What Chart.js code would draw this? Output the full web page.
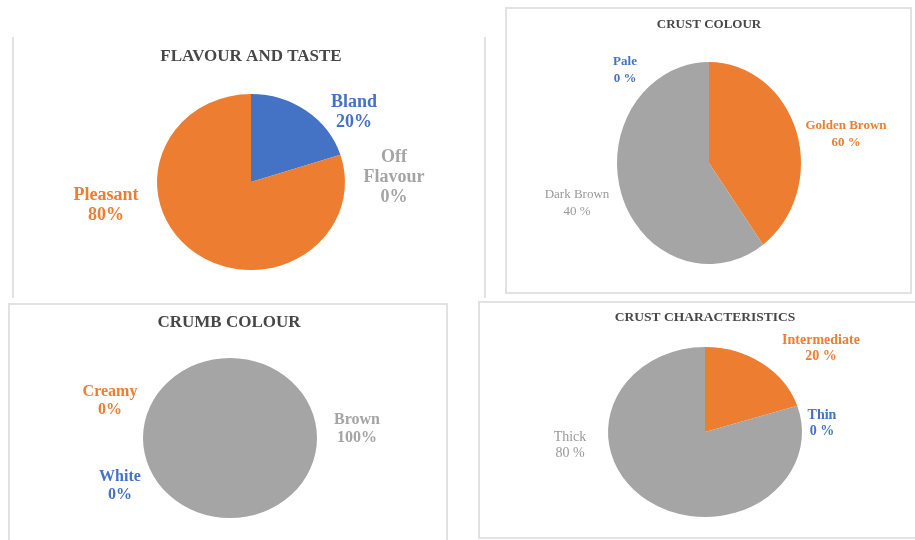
<!DOCTYPE html>
<html>
<head>
<meta charset="utf-8">
<script src="https://cdn.jsdelivr.net/npm/chart.js@4.4.1/dist/chart.umd.min.js"></script>
<style>
  html, body { margin: 0; padding: 0; background: #ffffff; }
  body { width: 915px; height: 540px; position: relative; overflow: hidden; }
  .caja { position: absolute; box-sizing: border-box; border-color: #e2e2e2; border-style: solid; border-width: 0; }
  canvas { position: absolute; left: 0; top: 0; }
</style>
</head>
<body>
<div class="caja" style="left:12px; top:37px; width:474px; height:261px; border-left-width:2px; border-right-width:2px;"></div>
<div class="caja" style="left:505px; top:7px; width:407px; height:287px; border-width:2px;"></div>
<div class="caja" style="left:8px; top:303px; width:440px; height:260px; border-width:2px 2px 0 2px;"></div>
<div class="caja" style="left:478px; top:301px; width:460px; height:238px; border-width:2px;"></div>

<canvas id="grafico-sabor" width="915" height="540"></canvas>
<canvas id="grafico-color-corteza" width="915" height="540"></canvas>
<canvas id="grafico-color-miga" width="915" height="540"></canvas>
<canvas id="grafico-caracteristicas" width="915" height="540"></canvas>

<script>
// ===== datos =====
const categoriasSabor = ["Bland", "Off Flavour", "Pleasant"];
const valoresSabor = [20, 0, 80];
const textosSabor = [["Bland", "20%"], ["Off", "Flavour", "0%"], ["Pleasant", "80%"]];

// los sectores dibujados en el original: dorado ~40 %, oscuro ~60 % (las etiquetas dicen lo contrario)
const categoriasCorteza = ["Pale", "Golden Brown", "Dark Brown"];
const valoresCorteza = [0, 40, 60];
const textosCorteza = [["Pale", "0 %"], ["Golden Brown", "60 %"], ["Dark Brown", "40 %"]];

const categoriasMiga = ["White", "Creamy", "Brown"];
const valoresMiga = [0, 0, 100];
const textosMiga = [["White", "0%"], ["Creamy", "0%"], ["Brown", "100%"]];

const categoriasCaracteristicas = ["Intermediate", "Thin", "Thick"];
const valoresCaracteristicas = [20, 0, 80];
const textosCaracteristicas = [["Intermediate", "20 %"], ["Thin", "0 %"], ["Thick", "80 %"]];

// ===== colores =====
const AZUL = "#4472c4";
const NARANJA = "#ed7d31";
const GRIS = "#a5a5a5";

/* =========================
   PLUGIN TITULO Y ETIQUETAS
   ========================= */
const pluginEtiquetas = {
    id: "etiquetas",
    // la imagen original esta un poco estirada: la tarta sale como elipse
    beforeDatasetsDraw(chart, args, opts) {
        const ctx = chart.ctx;
        const area = chart.chartArea;
        const cx = (area.left + area.right) / 2;
        const cy = (area.top + area.bottom) / 2;
        ctx.save();
        ctx.translate(cx, cy);
        ctx.scale(opts.escalaX, 1);
        ctx.translate(-cx, -cy);
    },
    afterDatasetsDraw(chart) {
        chart.ctx.restore();
    },
    afterDraw(chart, args, opts) {
        const ctx = chart.ctx;
        ctx.save();
        ctx.textAlign = "center";
        ctx.textBaseline = "middle";

        ctx.font = "bold " + opts.tamTitulo + "px 'Liberation Serif'";
        ctx.fillStyle = "#474747";
        ctx.fillText(opts.titulo, opts.posTitulo[0], opts.posTitulo[1]);

        opts.textos.forEach((lineas, i) => {
            const [x, y] = opts.posiciones[i];
            const peso = opts.pesos[i];
            ctx.font = peso + " " + opts.tamEtiqueta + "px 'Liberation Serif'";
            ctx.fillStyle = opts.coloresTexto[i];
            const inicio = y - (lineas.length - 1) * opts.interlineado / 2;
            lineas.forEach((linea, j) => {
                ctx.fillText(linea, x, inicio + j * opts.interlineado);
            });
        });
        ctx.restore();
    }
};

function construirTarta(idCanvas, categorias, valores, colores, centro, radioX, radioY, etiquetas) {
    const contexto = document.getElementById(idCanvas).getContext("2d");
    etiquetas.escalaX = radioX / radioY;
    return new Chart(contexto, {
        type: "pie",
        data: {
            labels: categorias,
            datasets: [{
                data: valores,
                backgroundColor: colores,
                borderWidth: 0
            }]
        },
        options: {
            responsive: false,
            animation: false,
            layout: {
                padding: {
                    left: centro[0] - radioY,
                    top: centro[1] - radioY,
                    right: 915 - centro[0] - radioY,
                    bottom: 540 - centro[1] - radioY
                }
            },
            plugins: {
                legend: { display: false },
                tooltip: { enabled: false },
                etiquetas: etiquetas
            }
        },
        plugins: [pluginEtiquetas]
    });
}

construirTarta("grafico-sabor", categoriasSabor, valoresSabor, [AZUL, GRIS, NARANJA],
    [251, 182], 94, 88, {
        titulo: "FLAVOUR AND TASTE", tamTitulo: 17, posTitulo: [251, 57],
        textos: textosSabor, tamEtiqueta: 18, interlineado: 20,
        posiciones: [[354, 112], [394, 177], [106, 205]],
        pesos: ["bold", "bold", "bold"],
        coloresTexto: [AZUL, GRIS, NARANJA]
    });

construirTarta("grafico-color-corteza", categoriasCorteza, valoresCorteza, [AZUL, NARANJA, GRIS],
    [709, 163], 92, 101, {
        titulo: "CRUST COLOUR", tamTitulo: 13, posTitulo: [709, 25],
        textos: textosCorteza, tamEtiqueta: 13, interlineado: 17,
        posiciones: [[625, 70], [846, 134], [577, 203]],
        pesos: ["bold", "bold", "normal"],
        coloresTexto: [AZUL, NARANJA, "#999999"]
    });

construirTarta("grafico-color-miga", categoriasMiga, valoresMiga, [AZUL, NARANJA, GRIS],
    [230, 438], 87, 80, {
        titulo: "CRUMB COLOUR", tamTitulo: 17, posTitulo: [229, 323],
        textos: textosMiga, tamEtiqueta: 16, interlineado: 18,
        posiciones: [[120, 486], [110, 401], [357, 429]],
        pesos: ["bold", "bold", "bold"],
        coloresTexto: [AZUL, NARANJA, GRIS]
    });

construirTarta("grafico-caracteristicas", categoriasCaracteristicas, valoresCaracteristicas, [NARANJA, AZUL, GRIS],
    [705, 432], 97, 85, {
        titulo: "CRUST CHARACTERISTICS", tamTitulo: 13.5, posTitulo: [705, 318],
        textos: textosCaracteristicas, tamEtiqueta: 14, interlineado: 16,
        posiciones: [[821, 348], [822, 423], [570, 445]],
        pesos: ["bold", "bold", "normal"],
        coloresTexto: [NARANJA, AZUL, "#999999"]
    });
</script>
</body>
</html>
